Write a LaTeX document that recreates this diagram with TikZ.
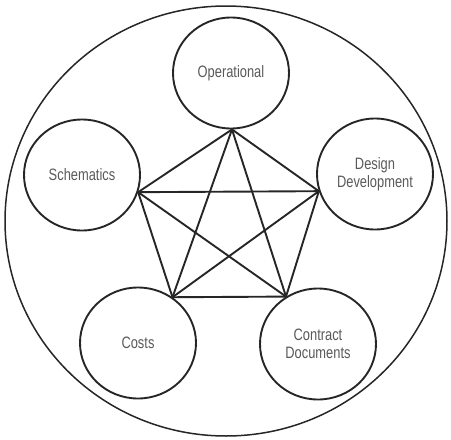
\documentclass[tikz,border=0pt]{standalone}
\usepackage{fontspec}
\newfontfamily\phasefont[FakeStretch=0.78]{Liberation Sans}
\usetikzlibrary{shapes.geometric}

\tikzset{
  phase/.style={ellipse,draw=black!85,line width=1.9pt,minimum width=116pt,
    minimum height=111pt,inner sep=0pt,align=center,text=black!65,
    font={\phasefont\fontsize{16.5}{17.5}\selectfont}},
  link/.style={draw=black!85,line width=1.9pt}
}

\begin{document}
\begin{tikzpicture}[x=1pt,y=-1pt,line cap=round,line join=round]
  \useasboundingbox (0,0) rectangle (451,440);

  % outer ring
  \node[ellipse,draw=black!85,line width=1.5pt,minimum width=442pt,
    minimum height=430pt,inner sep=0pt] (ring) at (226,221) {};

  % the five phases
  \node[phase] (oper) at (231,73) {Operational};
  \node[phase] (schem) at (82,175) {Schematics};
  \node[phase] (design) at (375,174) {Design\\Development};
  \node[phase] (costs) at (138,343) {Costs};
  \node[phase] (contract) at (318,344) {Contract\\Documents};

  % corners of the pentagon, on the circles
  \coordinate (pTop) at (oper.-89);
  \coordinate (pLeft) at (schem.-17);
  \coordinate (pRight) at (design.197);
  \coordinate (pCosts) at (costs.53);
  \coordinate (pContract) at (contract.124);

  % every corner joined to every other one
  \foreach \a/\b in {pTop/pLeft,pTop/pRight,pTop/pCosts,pTop/pContract,
                     pLeft/pRight,pLeft/pCosts,pLeft/pContract,
                     pRight/pCosts,pRight/pContract,pCosts/pContract}
    \draw[link] (\a) -- (\b);
\end{tikzpicture}
\end{document}
